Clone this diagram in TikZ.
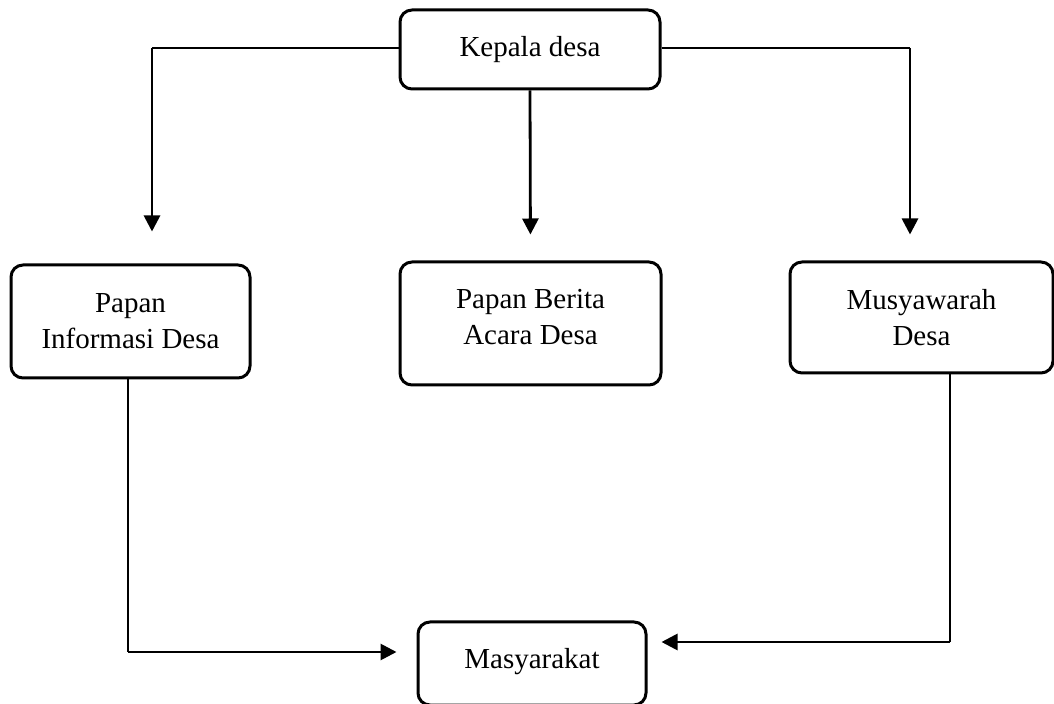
\documentclass[tikz,border=0pt]{standalone}
\usepackage{fontspec}
\setmainfont{Liberation Serif}
\usepackage{tikz}
\usetikzlibrary{arrows.meta,positioning,calc}

\tikzset{
  box/.style={draw, line width=1.5pt, rounded corners=6pt, align=center,
    inner sep=0pt, font=\fontsize{14.5}{18}\selectfont},
  thinlink/.style={line width=0.6pt},
  arrowlink/.style={line width=1.4pt, -{Triangle[length=8pt,width=8pt]}}
}

\begin{document}
\begin{tikzpicture}[x=0.5pt,y=-0.5pt]
\useasboundingbox (0,0) rectangle (1054,704);

% Boxes
\node[box, minimum width=130pt, minimum height=39.5pt] (kepala) at (530,49.5) {Kepala desa\\[-15pt]};
\node[box, minimum width=119.5pt, minimum height=56.5pt] (info) at (130.5,321.5) {Papan\\Informasi Desa};
\node[box, minimum width=130.5pt, minimum height=61.5pt] (berita) at (530.5,323.5) {Papan Berita\\Acara Desa\\[-11pt]};
\node[box, minimum width=131.5pt, minimum height=55.5pt] (musy) at (921.5,317.5) {Musyawarah\\Desa};
\node[box, minimum width=114pt, minimum height=41.5pt] (masy) at (532,663.5) {Masyarakat\\[-13pt]};

% Corners
\coordinate (tl) at (152,48);
\coordinate (tr) at (910,48);
\coordinate (bl) at (128,652);
\coordinate (br) at (950,642);

% Kepala desa to the three boxes
\draw[thinlink] (kepala.west |- tl) -- (tl);
\draw[arrowlink, shorten >=16pt] (tl) -- (tl |- info.north);
\draw[arrowlink, shorten >=13pt] (kepala.south) -- (berita.north);
\draw[thinlink] (kepala.east |- tr) -- (tr);
\draw[arrowlink, shorten >=13pt] (tr) -- (tr |- musy.north);

% To Masyarakat
\draw[thinlink] (bl |- info.south) -- (bl);
\draw[arrowlink, shorten >=10pt] (bl) -- (bl -| masy.west);
\draw[thinlink] (br |- musy.south) -- (br);
\draw[arrowlink, shorten >=7pt] (br) -- (br -| masy.east);

\end{tikzpicture}
\end{document}
